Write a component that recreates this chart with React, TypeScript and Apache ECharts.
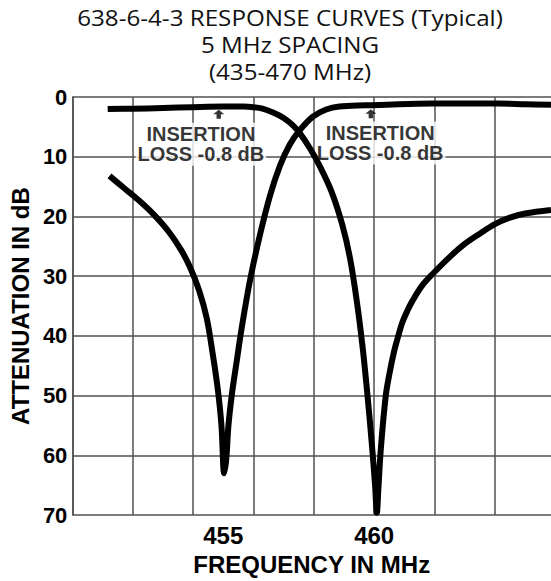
import React, { useEffect, useRef } from 'react';
import * as echarts from 'echarts';

const titleLines = ['638-6-4-3 RESPONSE CURVES (Typical)', '5 MHz SPACING', '(435-470 MHz)'];
const xAxisName = 'FREQUENCY IN MHz';
const yAxisName = 'ATTENUATION IN dB';
const xTickLabels = [455, 460];

// Filter response with notch at 460 MHz
const freqA = [451.17, 452.0, 453.0, 454.0, 455.0, 455.66, 456.0, 456.3, 456.65, 457.0, 457.3, 457.53, 457.86, 458.19, 458.6, 458.95, 459.2, 459.42, 459.62, 459.78, 459.93, 460.03, 460.09, 460.14, 460.22, 460.38, 460.5, 460.66, 460.8, 460.93, 461.1, 461.25, 461.6, 462.0, 462.5, 463.0, 463.5, 464.0, 464.5, 465.0, 465.86];
const lossA = [2.0, 1.95, 1.85, 1.7, 1.6, 1.6, 1.7, 1.95, 2.6, 3.5, 4.7, 6.0, 8.5, 11.5, 16.0, 21.5, 27.0, 34.0, 42.0, 50.0, 58.5, 65.0, 69.6, 65.6, 59.0, 50.2, 46.5, 42.6, 40.0, 37.8, 35.8, 34.3, 31.5, 29.3, 26.8, 24.6, 22.9, 21.3, 20.2, 19.5, 18.9];

// Filter response with notch at 455 MHz
const freqB = [451.23, 451.7, 452.2, 452.7, 453.2, 453.6, 453.9, 454.2, 454.45, 454.65, 454.82, 454.94, 455.03, 455.1, 455.17, 455.29, 455.45, 455.6, 455.89, 456.22, 456.55, 456.88, 457.2, 457.53, 457.97, 458.41, 458.85, 459.73, 460.8, 461.92, 463.0, 464.1, 465.0, 465.86];
const lossB = [13.2, 15.2, 17.3, 19.7, 22.6, 25.6, 28.5, 32.4, 37.0, 43.0, 49.0, 55.0, 63.0, 60.6, 55.1, 49.6, 44.1, 39.0, 30.6, 23.0, 16.5, 11.5, 8.0, 5.6, 3.3, 2.1, 1.6, 1.4, 1.2, 1.1, 1.1, 1.1, 1.2, 1.3];

const noteLines = ['INSERTION', 'LOSS -0.8 dB'];
const noteFreq = [454.26, 460.2];
const noteLoss = [7.9, 7.7];
const arrowFreq = [454.85, 459.89];
const arrowLoss = [2.9, 2.8];

export default function App() {
  const ref = useRef<HTMLDivElement>(null);
  useEffect(() => {
    if (!ref.current) return;
    const chart = echarts.init(ref.current, null, { renderer: 'svg' });
    const lineA = freqA.map((f, i) => [f, lossA[i]]);
    const lineB = freqB.map((f, i) => [f, lossB[i]]);
    const notes = noteFreq.map((f, i) => [f, noteLoss[i]]);
    const arrows = arrowFreq.map((f, i) => [f, arrowLoss[i]]);
    const gridStyle = { color: '#505050', width: 1.5 };
    chart.setOption({
      animation: false,
      backgroundColor: '#ffffff',
      graphic: titleLines.map((t, i) => ({
        type: 'text',
        x: 290,
        y: 17.5 + i * 27,
        scaleX: 1.1,
        style: {
          text: t,
          fill: '#111',
          font: '22px "Open Sans"',
          lineHeight: 25,
          textAlign: 'center',
          textVerticalAlign: 'middle',
        },
      })),
      grid: { left: 71, top: 97, right: -2, bottom: 61, containLabel: false },
      xAxis: {
        type: 'value',
        min: 450,
        max: 465.86,
        interval: 2,
        axisLine: { show: false },
        axisTick: { show: false },
        splitLine: { show: true, lineStyle: gridStyle, showMaxLine: false },
        axisLabel: {
          customValues: xTickLabels,
          margin: 8,
          fontFamily: 'Liberation Sans',
          fontWeight: 'bold',
          fontSize: 24,
          color: '#000',
        },
        name: xAxisName,
        nameLocation: 'middle',
        nameGap: 36,
        nameTextStyle: { fontFamily: 'Liberation Sans', fontWeight: 'bold', fontSize: 24, color: '#000' },
      },
      yAxis: {
        type: 'value',
        inverse: true,
        min: 0,
        max: 70,
        interval: 10,
        axisLine: { show: true, lineStyle: gridStyle },
        axisTick: { show: false },
        splitLine: { show: true, lineStyle: gridStyle },
        axisLabel: {
          margin: 5,
          fontFamily: 'Liberation Sans',
          fontWeight: 'bold',
          fontSize: 22,
          color: '#000',
        },
        name: yAxisName,
        nameLocation: 'middle',
        nameRotate: 90,
        nameGap: 40,
        nameTextStyle: { fontFamily: 'Liberation Sans', fontWeight: 'bold', fontSize: 24, color: '#000' },
      },
      series: [
        {
          type: 'scatter',
          z: 2,
          data: notes,
          symbolSize: 0,
          itemStyle: { color: '#000' },
          label: {
            show: true,
            position: 'inside',
            formatter: noteLines.join('\n'),
            fontFamily: 'Liberation Sans',
            fontWeight: 'bold',
            fontSize: 20,
            lineHeight: 20.5,
            color: '#000',
            backgroundColor: '#ffffff',
            padding: [1, 2],
          },
          silent: true,
        },
        {
          type: 'scatter',
          z: 3,
          data: arrows,
          symbol: 'path://M5,0 L10,6 L7,6 L7,12 L3,12 L3,6 L0,6 Z',
          symbolSize: [11, 9],
          itemStyle: { color: '#000' },
          silent: true,
        },
        {
          type: 'line',
          z: 4,
          data: lineA,
          showSymbol: false,
          smooth: 0.35,
          lineStyle: { color: '#000', width: 6, join: 'round' },
          silent: true,
        },
        {
          type: 'line',
          z: 4,
          data: lineB,
          showSymbol: false,
          smooth: 0.35,
          lineStyle: { color: '#000', width: 6, join: 'round' },
          silent: true,
        },
      ],
    });
    return () => chart.dispose();
  }, []);
  return <div ref={ref} style={{ position: 'absolute', left: 0, top: 0, width: 551, height: 581 }} />;
}
